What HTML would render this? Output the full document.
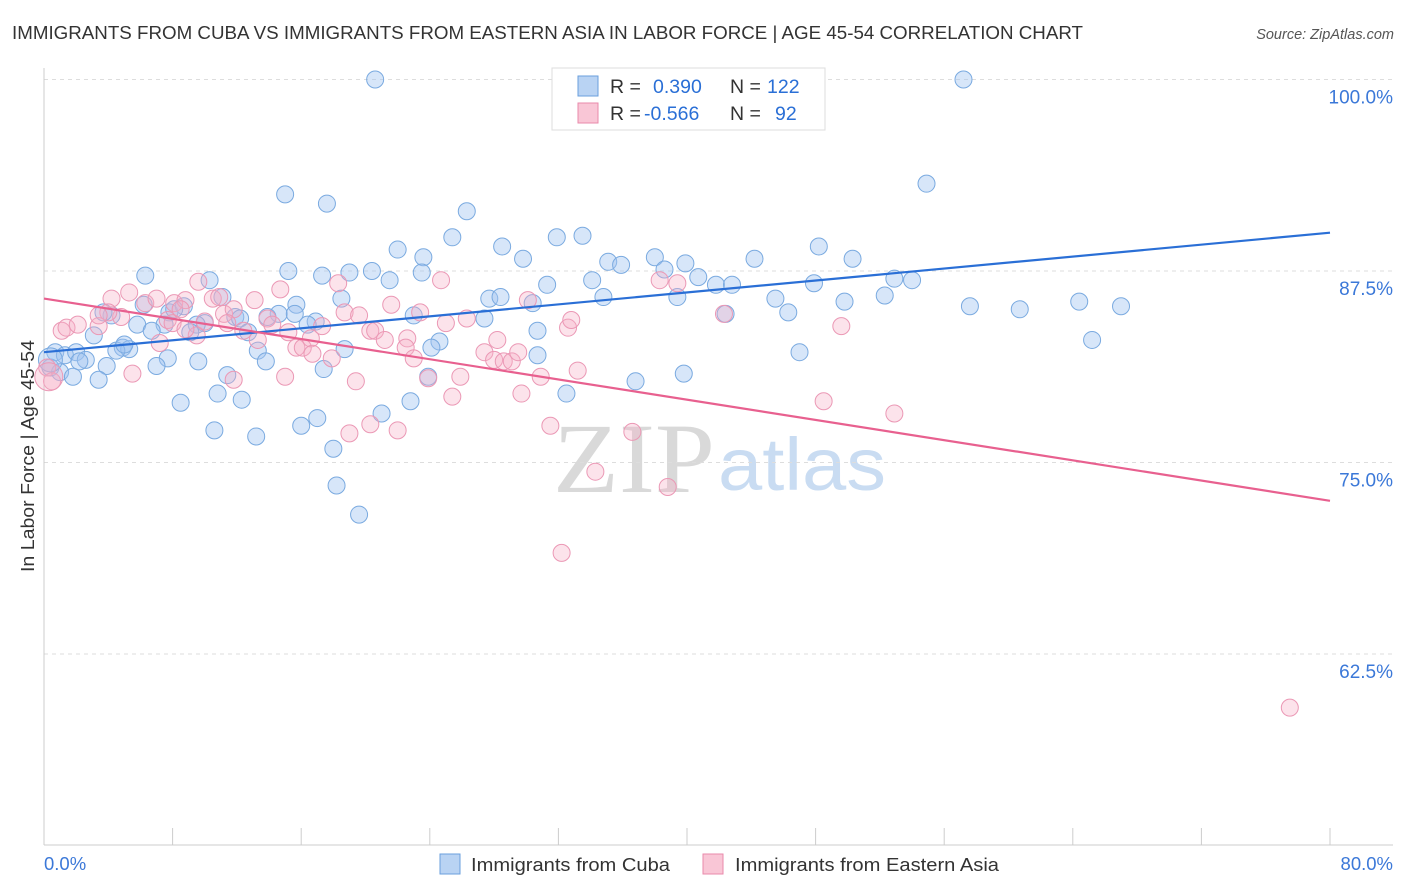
<!DOCTYPE html>
<html><head><meta charset="utf-8"><style>
body{margin:0;background:#fff;font-family:"Liberation Sans",sans-serif;}
#wrap{position:relative;width:1406px;height:892px;overflow:hidden;}
</style></head><body>
<div id="wrap">
<svg id="chart" width="1406" height="892" xmlns="http://www.w3.org/2000/svg">
<text x="12" y="39" font-size="18.5" fill="#333" textLength="1071" lengthAdjust="spacingAndGlyphs">IMMIGRANTS FROM CUBA VS IMMIGRANTS FROM EASTERN ASIA IN LABOR FORCE | AGE 45-54 CORRELATION CHART</text>
<text x="1394" y="39" font-size="14.5" fill="#555" font-style="italic" text-anchor="end">Source: ZipAtlas.com</text>
<g>
<text x="553" y="492" font-size="100" font-family="Liberation Serif,serif" fill="#d9d9d9" textLength="162" lengthAdjust="spacingAndGlyphs">ZIP</text>
<text x="718" y="490" font-size="74" fill="#c9dcf2" textLength="168" lengthAdjust="spacingAndGlyphs">atlas</text>
</g>
<g id="grid"></g><g id="axes"></g><g id="pts"></g><g id="trend"></g>
<text x="0" y="0" transform="translate(34,456) rotate(-90)" font-size="18" fill="#333" text-anchor="middle" textLength="232" lengthAdjust="spacingAndGlyphs">In Labor Force | Age 45-54</text>
<g>
<rect x="552" y="68" width="273" height="62" fill="#fff" stroke="#ddd"/>
<rect x="578" y="76" width="20" height="20" fill="#b9d3f3" stroke="#6a9fdc"/>
<rect x="578" y="103" width="20" height="20" fill="#f9c6d6" stroke="#e98aab"/>
<text y="93" font-size="19.5" fill="#333"><tspan x="610">R =</tspan><tspan x="653" fill="#2a6fd6">0.390</tspan><tspan x="730">N =</tspan><tspan x="767" fill="#2a6fd6">122</tspan></text>
<text y="120" font-size="19.5" fill="#333"><tspan x="610">R =</tspan><tspan x="644" fill="#2a6fd6">-0.566</tspan><tspan x="730">N =</tspan><tspan x="775" fill="#2a6fd6">92</tspan></text>
</g>
<g>
<rect x="440" y="854" width="20" height="20" fill="#b9d3f3" stroke="#6a9fdc"/>
<text x="471" y="871" font-size="18.5" fill="#333" textLength="199" lengthAdjust="spacingAndGlyphs">Immigrants from Cuba</text>
<rect x="703" y="854" width="20" height="20" fill="#f9c6d6" stroke="#e98aab"/>
<text x="735" y="871" font-size="18.5" fill="#333" textLength="264" lengthAdjust="spacingAndGlyphs">Immigrants from Eastern Asia</text>
</g>
<text x="44" y="870" font-size="18.5" fill="#3b78d8">0.0%</text>
<text x="1393" y="870" font-size="18.5" fill="#3b78d8" text-anchor="end">80.0%</text>
</svg>
</div>
<script>
const yTicks=[100,87.5,75,62.5];
const yTickLabels=["100.0%","87.5%","75.0%","62.5%"];
const xTicks=[0,8,16,24,32,40,48,56,64,72,80];
const cubaX=[20.6,57.2,54.9,15.0,17.6,26.3,22.0,25.4,28.5,31.9,33.5,29.8,23.6,38.0,39.9,44.2,48.2,50.3,15.2,6.3,10.3,17.3,19.0,20.4,21.5,23.5,31.3,34.1,35.1,35.9,38.6,40.7,41.8,42.8,52.9,54.0,47.9,45.5,39.4,34.8,27.7,28.4,30.4,18.5,15.7,11.1,6.2,7.8,8.7,8.1,4.2,3.7,14.6,13.9,15.6,16.9,16.4,11.9,12.2,10.0,9.5,12.7,7.5,5.8,6.7,3.1,9.1,23.0,27.4,30.7,24.6,24.1,18.7,13.3,4.9,5.3,4.5,5.0,7.7,9.6,13.8,0.7,1.3,2.0,2.6,2.2,3.9,7.0,0.4,1.0,1.8,3.4,11.4,17.4,23.9,30.7,36.8,39.8,47.0,46.3,49.8,52.3,57.6,60.7,64.4,67.0,65.2,8.5,10.8,12.3,22.8,21.0,32.5,10.6,13.2,16.0,17.0,18.0,18.2,19.6,42.4,0.4];
const cubaY=[100.0,100.0,93.2,92.5,91.9,91.4,88.9,89.7,89.1,89.7,89.8,88.3,88.4,88.4,88.0,88.3,89.1,88.3,87.5,87.2,86.9,87.2,87.4,87.5,86.9,87.4,86.6,86.9,88.1,87.9,87.6,87.1,86.6,86.6,87.0,86.9,86.7,85.7,85.8,85.8,85.7,85.8,85.4,85.7,85.3,85.8,85.3,84.8,85.2,85.0,84.6,84.8,84.7,84.5,84.7,84.2,84.0,84.5,84.4,84.1,84.0,83.5,84.0,84.0,83.6,83.3,83.5,84.6,84.4,83.6,82.9,82.5,82.4,82.3,82.5,82.4,82.3,82.7,81.8,81.6,81.6,82.2,82.0,82.2,81.7,81.6,81.3,81.3,81.2,80.9,80.6,80.4,80.7,81.1,80.6,82.0,80.3,80.8,82.2,84.8,85.5,85.9,85.2,85.0,85.5,85.2,83.0,78.9,79.5,79.1,79.0,78.2,79.5,77.1,76.7,77.4,77.9,75.9,73.5,71.6,84.7,81.7];
const asiaX=[1.1,1.4,2.1,3.4,4.2,4.8,5.3,6.3,7.0,5.5,8.1,8.8,9.6,10.5,10.9,7.7,8.0,8.5,9.5,10.0,11.2,11.8,11.4,12.4,13.3,13.1,13.9,14.7,14.2,15.2,15.7,16.1,16.6,16.7,17.3,17.9,18.3,18.7,19.6,20.3,20.6,21.2,21.6,22.6,22.5,23.0,23.4,23.9,24.7,25.0,26.3,25.9,25.4,27.4,28.0,28.2,28.6,29.1,29.5,30.1,30.9,29.7,31.5,32.6,32.8,33.2,34.3,32.2,36.6,38.8,38.3,39.4,42.3,48.5,49.6,52.9,77.5,22.0,19.0,20.3,15.0,19.4,11.8,8.8,7.2,0.2,0.5,4.0,3.4];
const asiaY=[83.6,83.8,84.0,83.9,85.7,84.5,86.1,85.4,85.7,80.8,85.4,85.6,86.8,85.7,85.8,84.3,84.1,85.0,83.3,84.2,84.7,85.0,84.1,83.6,83.0,85.6,84.4,86.3,84.0,83.5,82.5,82.5,83.1,82.1,83.9,81.8,86.7,84.8,84.6,83.6,83.6,83.0,85.3,83.1,82.5,81.8,84.8,80.5,86.9,84.1,84.4,80.6,79.3,82.2,81.7,83.0,81.6,81.6,82.2,85.6,80.6,79.5,77.4,83.8,84.3,81.0,74.4,69.1,77.0,73.4,86.9,86.7,84.7,79.0,83.9,78.2,59.0,77.1,76.9,77.5,80.6,80.3,80.4,83.7,82.8,81.2,80.3,84.8,84.6];
const cubaTrend=[[0,82.2],[80,90.0]];
const asiaTrend=[[0,85.7],[80,72.5]];
const NS="http://www.w3.org/2000/svg";
const X0=44,X1=1330,Y100=79.5,PER=191.5/12.5;
function sx(v){return X0+(v/80)*(X1-X0);}
function sy(v){return Y100+(100-v)*PER;}
function mk(tag,attrs,parent){const e=document.createElementNS(NS,tag);for(const k in attrs)e.setAttribute(k,attrs[k]);parent.appendChild(e);return e;}
const grid=document.getElementById('grid'),axes=document.getElementById('axes'),pts=document.getElementById('pts'),tr=document.getElementById('trend');
yTicks.forEach((t,i)=>{
 const l=mk('line',{x1:44,x2:1393,y1:sy(t),y2:sy(t),stroke:'#ddd','stroke-dasharray':'4,4'},grid);
 
 
 const tx=mk('text',{x:1393,y:sy(t)+24,'font-size':19,fill:'#3b78d8','text-anchor':'end'},grid);
 tx.textContent=yTickLabels[i];
 
 
});
const ya=mk('line',{x1:44,x2:44,y1:68,y2:845,stroke:'#ccc'},axes);


const xa=mk('line',{x1:44,x2:1393,y1:845,y2:845,stroke:'#ccc'},axes);


xTicks.forEach(t=>{
 const l=mk('line',{x1:sx(t),x2:sx(t),y1:828,y2:845,stroke:'#ccc'},axes);
 
 
});
function dots(xs,ys,fill,stroke,name){
 xs.forEach((x,i)=>{
  const big=(i===xs.length-1&&name==='cuba-point');
  const c=mk('circle',{cx:sx(x),cy:sy(ys[i]),r:big?12:8.5,fill:fill,stroke:stroke,'stroke-width':1},pts);
  
  
 });
}
dots(cubaX,cubaY,'rgba(160,196,240,0.42)','#7aaae0','cuba-point');
dots(asiaX,asiaY,'rgba(246,175,198,0.35)','#eb98b5','eastern-asia-point');
const big=mk('circle',{cx:sx(0.3),cy:sy(80.6),r:14,fill:'rgba(246,175,198,0.35)',stroke:'#eb98b5','stroke-width':1},pts);


const l1=mk('line',{x1:sx(cubaTrend[0][0]),y1:sy(cubaTrend[0][1]),x2:sx(cubaTrend[1][0]),y2:sy(cubaTrend[1][1]),stroke:'#2a6fd6','stroke-width':2.2},tr);


const l2=mk('line',{x1:sx(asiaTrend[0][0]),y1:sy(asiaTrend[0][1]),x2:sx(asiaTrend[1][0]),y2:sy(asiaTrend[1][1]),stroke:'#e8608f','stroke-width':2.2},tr);


</script>
</body></html>
